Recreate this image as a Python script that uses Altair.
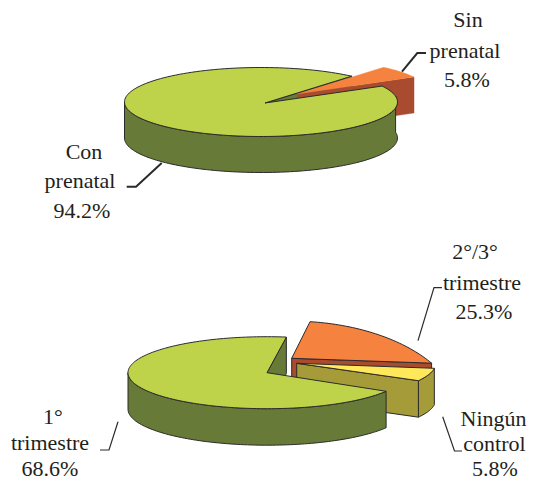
import math
import altair as alt
import pandas as pd

# --- values
top_labels = [["Con", "prenatal", "94.2%"], ["Sin", "prenatal", "5.8%"]]
top_values = [94.2, 5.8]
bottom_labels = [["1°", "trimestre", "68.6%"], ["2°/3°", "trimestre", "25.3%"], ["Ningún", "control", "5.8%"]]
bottom_values = [68.6, 25.3, 5.8]

# --- colours
GREEN, GREEN_D = "#BFD34A", "#677A38"
ORANGE, BROWN = "#F6823F", "#A84B2E"
YELLOW, OLIVE = "#FFE95A", "#A59B38"
LINE = "#2b2b2b"

# --- pie geometry (pixels of the drawing)
RX, TOP_RY, BOT_RY = 136.5, 34.5, 36.0
TOP_C = (261, 102)
TOP_APEX = (265, 103)
TOP_START = 27.5
TOP_SHIFT = (32, -9)
TOP_DEPTH = 36
BOT_RX = 139
BOT_C = (267, 372.7)
BOT_START = 82
BOT_DEPTH = 36.5
ORANGE_APEX = (291.7, 358.3)
YELLOW_APEX = (296.7, 363.3)
# the exploded orange slice is drawn flatter, on a wider ellipse
ORANGE_RIM_C = (291.7, 418.5)
ORANGE_RIM_R = (170, 97.4)
ORANGE_RIM_START = 83.8
ORANGE_RIM_FACTOR = 0.54
YELLOW_START = -8

XS = alt.Scale(domain=[8, 527], range=[0, 519], nice=False, zero=False)
YS = alt.Scale(domain=[8, 482], range=[0, 474], nice=False, zero=False)


def sweep(p):
    return p * 3.6


def rim(c, rx, ry, a0, a1, n=60):
    out = []
    for k in range(n + 1):
        a = math.radians(a0 + (a1 - a0) * k / n)
        out.append((c[0] + rx * math.cos(a), c[1] - ry * math.sin(a)))
    return out


def down(pts, d):
    return [(x, y + d) for x, y in pts]


def poly(pts, fill, stroke=None, sw=1.0):
    df = pd.DataFrame({"x": [p[0] for p in pts], "y": [p[1] for p in pts], "i": range(len(pts))})
    kw = dict(fill=fill, interpolate="linear-closed", strokeJoin="round")
    kw.update(stroke=stroke if stroke else fill, strokeWidth=sw if stroke else 0.3)
    return alt.Chart(df).mark_line(**kw).encode(
        x=alt.X("x:Q", scale=XS, axis=None),
        y=alt.Y("y:Q", scale=YS, axis=None),
        order="i:Q",
    )


def leader(pts, sw):
    df = pd.DataFrame({"x": [p[0] for p in pts], "y": [p[1] for p in pts], "i": range(len(pts))})
    return alt.Chart(df).mark_line(color=LINE, strokeWidth=sw).encode(
        x=alt.X("x:Q", scale=XS, axis=None),
        y=alt.Y("y:Q", scale=YS, axis=None),
        order="i:Q",
    )


def label(lines, xs, ys):
    df = pd.DataFrame({"t": lines, "x": xs, "y": ys})
    return alt.Chart(df).mark_text(
        font="Liberation Serif", fontSize=22, color="#231f20", align="center", baseline="alphabetic"
    ).encode(
        x=alt.X("x:Q", scale=XS, axis=None),
        y=alt.Y("y:Q", scale=YS, axis=None),
        text="t:N",
    )


layers = []

# ---------- upper pie
a0 = TOP_START
a1 = a0 + sweep(top_values[1])
orim = rim((TOP_C[0] + TOP_SHIFT[0], TOP_C[1] + TOP_SHIFT[1]), RX, TOP_RY, a1, a0, 20)
oapex = (TOP_APEX[0] + TOP_SHIFT[0], TOP_APEX[1] + TOP_SHIFT[1])
grim = rim(TOP_C, RX, TOP_RY, a1, a0 + 360, 160)
# inner face of the big slice
gface = [TOP_APEX, grim[0]] + down([grim[0], TOP_APEX], TOP_DEPTH)
layers.append(poly(gface, GREEN_D, LINE))
# orange slice faces
bface = [oapex, orim[-1]] + down([orim[-1], oapex], TOP_DEPTH)
layers.append(poly(bface, BROWN))
layers.append(poly([oapex] + orim, ORANGE))
# big slice wall and top
front = rim(TOP_C, RX, TOP_RY, 180, 360 + a0 * 0.35, 100)
layers.append(poly(front + down(front[::-1], TOP_DEPTH), GREEN_D, LINE))
layers.append(poly([TOP_APEX] + grim, GREEN, LINE))

# ---------- lower pie
b0 = BOT_START
b1 = b0 + sweep(bottom_values[0])
b3 = YELLOW_START - sweep(bottom_values[2])
# orange slice
ocrim = rim(ORANGE_RIM_C, ORANGE_RIM_R[0], ORANGE_RIM_R[1], ORANGE_RIM_START,
            ORANGE_RIM_START - sweep(bottom_values[1]) * ORANGE_RIM_FACTOR, 40)
layers.append(poly([ORANGE_APEX, ocrim[-1]] + down([ocrim[-1], ORANGE_APEX], BOT_DEPTH), BROWN, LINE))
layers.append(poly([ORANGE_APEX] + ocrim, ORANGE, LINE))
# yellow slice
yrim = rim(YELLOW_APEX, BOT_RX, BOT_RY, YELLOW_START, b3, 20)
layers.append(poly(yrim + down(yrim[::-1], BOT_DEPTH), OLIVE, LINE))
layers.append(poly([YELLOW_APEX, yrim[-1]] + down([yrim[-1], YELLOW_APEX], BOT_DEPTH), OLIVE, LINE))
layers.append(poly([YELLOW_APEX] + yrim, YELLOW, LINE))
# big green slice
grim2 = rim(BOT_C, BOT_RX, BOT_RY, b0, b1, 160)
layers.append(poly([BOT_C, grim2[0]] + down([grim2[0], BOT_C], BOT_DEPTH), GREEN_D, LINE))
front2 = rim(BOT_C, BOT_RX, BOT_RY, 180, b1, 100)
layers.append(poly(front2 + down(front2[::-1], BOT_DEPTH), GREEN_D, LINE))
layers.append(poly([BOT_C] + grim2, GREEN, LINE))

# ---------- leader lines
layers.append(leader([(402, 71.7), (417.3, 53), (426, 53)], 2))
layers.append(leader([(161.7, 163), (136, 186.7), (126.7, 186.7)], 2))
layers.append(leader([(418, 340.7), (434, 287.7), (442, 287.7)], 1.2))
layers.append(leader([(442.7, 416.7), (454.5, 451), (462, 451)], 1.2))
layers.append(leader([(118, 421.7), (109, 450), (100, 450)], 1.2))

# ---------- labels (the last lines sit just inside the drawing's bottom edge)
layers.append(label(top_labels[1], [468, 465, 467], [27, 58, 87]))
layers.append(label(top_labels[0], [84, 80, 82], [159, 188, 218]))
layers.append(label(bottom_labels[0], [53, 50, 50], [424, 450, 476]))
layers.append(label(bottom_labels[1], [475, 482, 484], [259, 290, 319]))
layers.append(label(bottom_labels[2], [493.5, 494.5, 495], [426, 451, 476]))

chart = alt.layer(*layers).properties(
    width=519, height=474, padding=0, background="white",
    autosize=alt.AutoSizeParams(type="none"),
).configure_view(stroke=None)

chart.save("out.html", embed_options={"renderer": "svg", "actions": False})
